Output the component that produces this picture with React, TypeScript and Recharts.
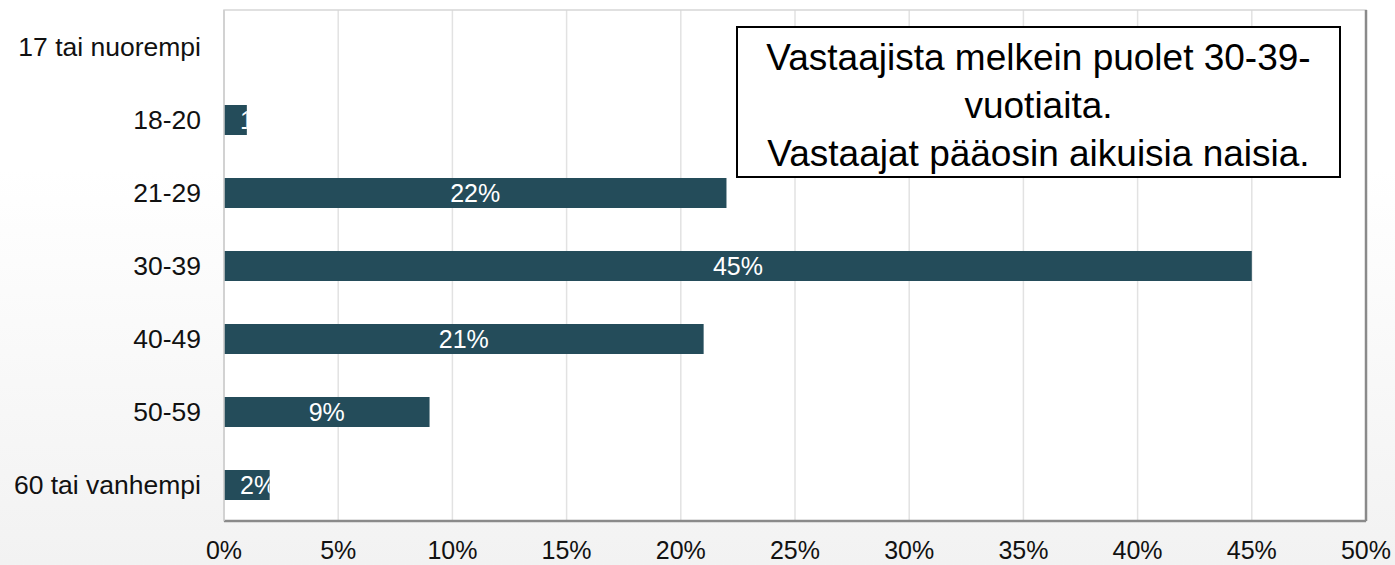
import { BarChart, Bar, XAxis, YAxis, CartesianGrid, ReferenceLine, ReferenceArea } from "recharts";

const ageGroups = ["17 tai nuorempi", "18-20", "21-29", "30-39", "40-49", "50-59", "60 tai vanhempi"];
const shares = [0, 1, 22, 45, 21, 9, 2];
const xTicks = [0, 5, 10, 15, 20, 25, 30, 35, 40, 45, 50];
const noteLines = ["Vastaajista melkein puolet 30-39-", "vuotiaita.", "Vastaajat pääosin aikuisia naisia."];

const data = ageGroups.map((name, i) => ({ name, value: shares[i] }));

const FONT = "'Liberation Sans', Arial, sans-serif";
const BAR_COLOR = "#244c5a";

// label sits in the middle of the bar, but never closer than 16px to the axis; clipped to the bar
const renderLabel = (props: any) => {
  const x = props.x ?? props.viewBox?.x;
  const y = props.y ?? props.viewBox?.y;
  const width = props.width ?? props.viewBox?.width;
  const height = props.height ?? props.viewBox?.height;
  const value = props.value;
  if (!value) return null;
  const txt = `${value}%`;
  const textW = (txt.length - 1) * 0.556 * 25 + 0.889 * 25;
  const cx = Math.max(x + width / 2, x + 16 + textW / 2);
  const id = `clip-lbl-${props.index}`;
  return (
    <g key={id}>
      <defs>
        <clipPath id={id}>
          <rect x={x} y={y} width={width} height={height} />
        </clipPath>
      </defs>
      <text
        x={cx}
        y={y + height / 2}
        textAnchor="middle"
        dominantBaseline="central"
        fill="#fff"
        fontSize={25}
        fontFamily={FONT}
        clipPath={`url(#${id})`}
      >
        {txt}
      </text>
    </g>
  );
};

export default function App() {
  return (
    <div
      style={{
        position: "absolute",
        left: 0,
        top: 0,
        width: 1395,
        height: 565,
        background: "linear-gradient(to bottom, #ffffff 0%, #ffffff 30%, #f2f2f2 100%)",
        fontFamily: FONT,
      }}
    >
      <BarChart
        width={1395}
        height={565}
        data={data}
        layout="vertical"
        margin={{ top: 10, right: 29, bottom: 0, left: 0 }}
        barSize={30}
      >
        <CartesianGrid horizontal={false} stroke="#e2e2e2" strokeWidth={1.5} fill="#ffffff" />
        <ReferenceArea x1={0} x2={50} fill="none" stroke="#d6d6d6" strokeWidth={1.5} />
        <XAxis
          type="number"
          domain={[0, 50]}
          ticks={xTicks}
          tickFormatter={(v) => `${v}%`}
          height={44}
          tickSize={0}
          tickMargin={20}
          tickLine={false}
          axisLine={{ stroke: "#8a8a8a", strokeWidth: 2.5 }}
          tick={{ fill: "#111", fontSize: 25, fontFamily: FONT }}
          interval={0}
        />
        <YAxis
          type="category"
          dataKey="name"
          width={224}
          tickSize={0}
          tickMargin={23}
          tickLine={false}
          axisLine={{ stroke: "#cfcfcf", strokeWidth: 1.5 }}
          tick={{ fill: "#111", fontSize: 26.5, fontFamily: FONT }}
          interval={0}
        />
        <ReferenceLine x={50} stroke="#8a8a8a" strokeWidth={2.5} />
        <Bar dataKey="value" fill={BAR_COLOR} isAnimationActive={false} label={renderLabel} />
      </BarChart>
      <div
        style={{
          position: "absolute",
          left: 736,
          top: 26,
          width: 605,
          height: 152,
          border: "2px solid #000",
          background: "#fff",
          textAlign: "center",
          fontSize: 37,
          lineHeight: "48px",
          paddingTop: 6,
          boxSizing: "border-box",
          color: "#000",
          whiteSpace: "nowrap",
        }}
      >
        {noteLines.map((line, i) => (
          <div key={i}>{line}</div>
        ))}
      </div>
    </div>
  );
}
